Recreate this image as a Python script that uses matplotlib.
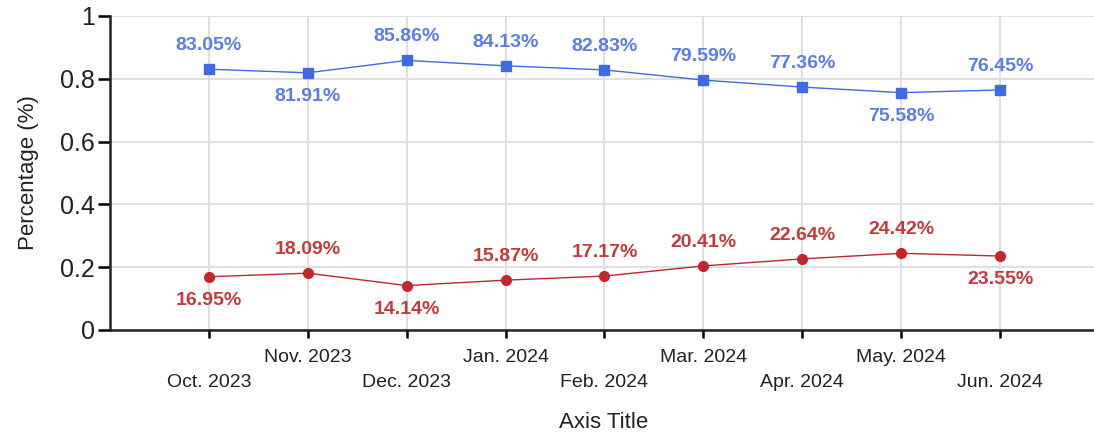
import matplotlib.pyplot as plt

plt.rcParams["font.family"] = ["Liberation Sans", "DejaVu Sans"]

months = ["Oct. 2023", "Nov. 2023", "Dec. 2023", "Jan. 2024", "Feb. 2024",
          "Mar. 2024", "Apr. 2024", "May. 2024", "Jun. 2024"]
blue_vals = [0.8305, 0.8191, 0.8586, 0.8413, 0.8283, 0.7959, 0.7736, 0.7558, 0.7645]
red_vals = [0.1695, 0.1809, 0.1414, 0.1587, 0.1717, 0.2041, 0.2264, 0.2442, 0.2355]
# +1 = label above the point, -1 = below
blue_side = [1, -1, 1, 1, 1, 1, 1, -1, 1]
red_side = [-1, 1, -1, 1, 1, 1, 1, 1, -1]
y_ticks = [0, 0.2, 0.4, 0.6, 0.8, 1]
y_tick_labels = ["0", "0.2", "0.4", "0.6", "0.8", "1"]

BLUE = "#4169e1"
BLUE_TXT = "#5a7de6"
RED = "#c0282d"
RED_TXT = "#c53a3a"
TXT = "#222222"

fig = plt.figure(figsize=(10.94, 4.37), dpi=100)
ax = fig.add_axes([0.1005, 0.2449, 0.8995, 0.7185])

x = list(range(len(months)))

ax.plot(x, blue_vals, color=BLUE, linewidth=1.0, marker="s", markersize=7,
        zorder=3, clip_on=False)
ax.plot(x, red_vals, color=RED, linewidth=1.0, marker="o", markersize=7,
        zorder=3, clip_on=False)

for xi, v, s in zip(x, blue_vals, blue_side):
    ax.annotate(f"{v * 100:.2f}%", (xi, v), xytext=(0, 17 * s),
                textcoords="offset points", ha="center", va="center",
                fontsize=14, fontweight="bold", color=BLUE_TXT)
for xi, v, s in zip(x, red_vals, red_side):
    ax.annotate(f"{v * 100:.2f}%", (xi, v), xytext=(0, 17 * s),
                textcoords="offset points", ha="center", va="center",
                fontsize=14, fontweight="bold", color=RED_TXT)

ax.set_xlim(-1, 8.95)
ax.set_ylim(0, 1)
ax.set_yticks(y_ticks)
ax.set_yticklabels(y_tick_labels, fontsize=18, color=TXT)
ax.set_xticks(x)
ax.set_xticklabels([m if i % 2 else "\n" + m for i, m in enumerate(months)],
                   fontsize=14, color=TXT)
for lbl in ax.get_xticklabels():
    lbl.set_linespacing(1.6)

ax.grid(True, color="#dddddd", linewidth=1.3)
ax.set_axisbelow(True)
for side in ["top", "right"]:
    ax.spines[side].set_visible(False)
for side in ["left", "bottom"]:
    ax.spines[side].set_linewidth(1.8)
    ax.spines[side].set_color(TXT)
ax.tick_params(axis="y", length=9, width=1.8, pad=2)
ax.tick_params(axis="x", length=6, width=1.8, pad=8)

ax.set_ylabel("Percentage (%)", fontsize=16, color=TXT)
ax.yaxis.set_label_coords(-0.072, 0.5)
ax.set_xlabel("Axis Title", fontsize=16, color=TXT)
ax.xaxis.set_label_coords(0.502, -0.262)

fig.savefig("out.png", dpi=100)
